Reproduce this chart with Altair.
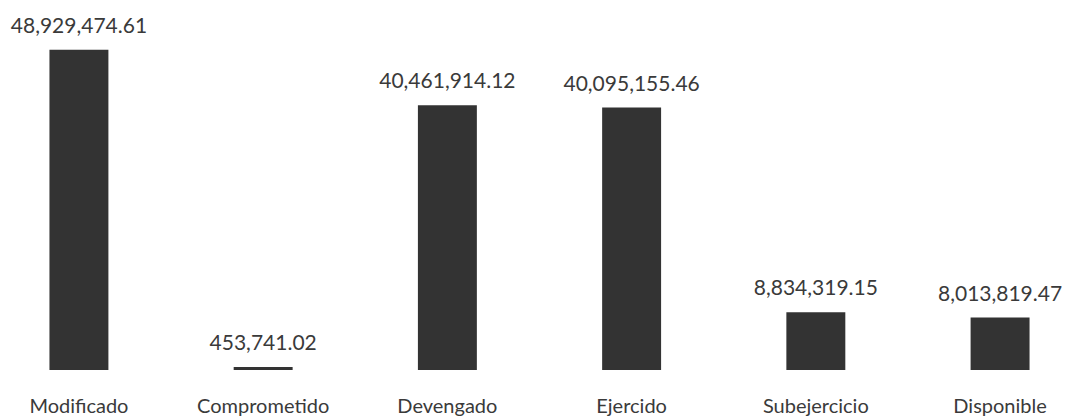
import altair as alt
import pandas as pd

categories = ["Modificado", "Comprometido", "Devengado", "Ejercido", "Subejercicio", "Disponible"]
values = [48929474.61, 453741.02, 40461914.12, 40095155.46, 8834319.15, 8013819.47]
labels = ["48,929,474.61", "453,741.02", "40,461,914.12", "40,095,155.46", "8,834,319.15", "8,013,819.47"]

df = pd.DataFrame({"cat": categories, "val": values, "lab": labels})

x_enc = alt.X(
    "cat:N",
    sort=categories,
    title=None,
    scale=alt.Scale(paddingInner=0.68, paddingOuter=0.225),
    axis=alt.Axis(
        labelAngle=0,
        labelFont="Lato",
        labelFontSize=20,
        labelColor="#3a3a3a",
        labelPadding=42,
        labelBaseline="alphabetic",
        tickSize=0,
        ticks=False,
        domain=False,
        grid=False,
    ),
)
y_enc = alt.Y("val:Q", axis=None, scale=alt.Scale(domain=[0, 55300000], nice=False))

bars = alt.Chart(df).mark_bar(color="#333333").encode(x=x_enc, y=y_enc)
text = alt.Chart(df).mark_text(
    font="Lato", fontSize=21, color="#3a3a3a", baseline="alphabetic", dy=-17
).encode(x=alt.X("cat:N", sort=categories), y=y_enc, text="lab:N")

chart = (
    alt.layer(bars, text)
    .properties(width=1063, height=362, padding=0, background="white")
    .configure_view(stroke=None)
)

chart.save("out.html", embed_options={"renderer": "svg", "actions": False})
